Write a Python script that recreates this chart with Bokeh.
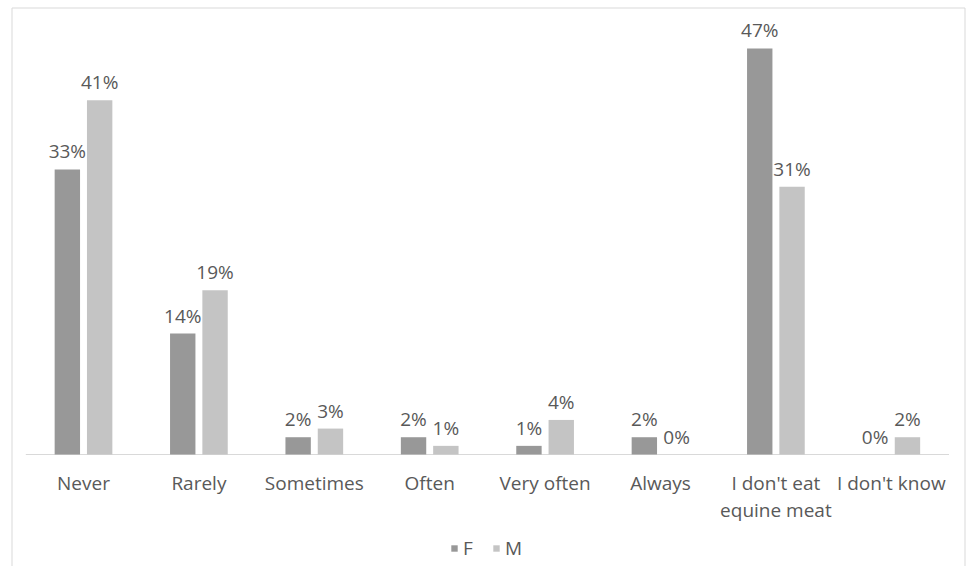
from bokeh.plotting import figure
from bokeh.models import Range1d, Legend, LegendItem, ColumnDataSource
from bokeh.core.properties import value
from bokeh.embed import file_html
from bokeh.resources import INLINE

# Frequency of eating equine meat, by gender (% of respondents)
categories = ["Never", "Rarely", "Sometimes", "Often", "Very often", "Always",
              "I don't eat\nequine meat", "I don't know"]
female = [33, 14, 2, 2, 1, 2, 47, 0]
male = [41, 19, 3, 1, 4, 0, 31, 2]
series_names = ["F", "M"]

# Page / canvas layout (pixels)
W, H = 968, 566
X0_PX = 25.3        # left edge of the first category slot
PX_PER_CAT = 115.4  # width of one category slot
BASE_PX = 454       # y pixel of the zero line
PX_PER_PCT = 8.64   # vertical pixels per percentage point

F_COLOR = "#989898"
M_COLOR = "#c4c4c4"
TEXT_COLOR = "#595959"
RULE_COLOR = "#d9d9d9"
FONT = "Open Sans"
FONT_SIZE = "19px"


def px_x(px):
    return (px - X0_PX) / PX_PER_CAT


def px_y(py):
    return (BASE_PX - py) / PX_PER_PCT


x_range = Range1d(px_x(0), px_x(W))
y_range = Range1d(px_y(H), px_y(0))

p = figure(width=W, height=H, x_range=x_range, y_range=y_range,
           output_backend="svg", toolbar_location=None,
           x_axis_location=None, y_axis_location=None,
           min_border=0, min_border_left=0, min_border_right=0,
           min_border_top=0, min_border_bottom=0)
p.grid.visible = False
p.outline_line_color = None
p.background_fill_color = "white"
p.border_fill_color = "white"

# chart-area frame (left, top, right edges)
fl, fr, ft, fb = px_x(11.5), px_x(964.5), px_y(7.5), px_y(H + 2)
p.segment(x0=[fl, fl, fr], y0=[fb, ft, ft], x1=[fl, fr, fr], y1=[ft, ft, fb],
          line_color=RULE_COLOR, line_width=1)

n = len(categories)
centers = [i + 0.5 for i in range(n)]
offset = 0.14
bar_w = 0.22
xf = [c - offset for c in centers]
xm = [c + offset for c in centers]

src_f = ColumnDataSource(dict(x=xf, top=female,
                              label=[f"{v}%" for v in female]))
src_m = ColumnDataSource(dict(x=xm, top=male,
                              label=[f"{v}%" for v in male]))

# zero line across the category slots
p.segment(x0=[0], y0=[0], x1=[n], y1=[0], line_color=RULE_COLOR, line_width=1)

rf = p.vbar(x="x", top="top", bottom=0, width=bar_w, source=src_f,
            fill_color=F_COLOR, line_color=None)
rm = p.vbar(x="x", top="top", bottom=0, width=bar_w, source=src_m,
            fill_color=M_COLOR, line_color=None)

for src in (src_f, src_m):
    p.text(x="x", y="top", text="label", source=src,
           text_align="center", text_baseline="bottom", y_offset=-5,
           text_font=value(FONT), text_font_size=FONT_SIZE,
           text_color=TEXT_COLOR)

# category labels under the zero line
p.text(x=centers, y=[0] * n, text=categories,
       text_align="center", text_baseline="top", y_offset=15,
       text_font=value(FONT), text_font_size=FONT_SIZE,
       text_line_height=1.05, text_color=TEXT_COLOR)

legend = Legend(items=[LegendItem(label=series_names[0], renderers=[rf]),
                       LegendItem(label=series_names[1], renderers=[rm])],
                orientation="horizontal", location=(450, 5),
                glyph_width=8, glyph_height=8, label_standoff=5, spacing=9,
                padding=0, margin=0, border_line_color=None,
                background_fill_alpha=0,
                label_text_font=FONT, label_text_font_size=FONT_SIZE,
                label_text_color=TEXT_COLOR)
p.add_layout(legend)

open("out.html", "w").write(file_html(p, INLINE))
